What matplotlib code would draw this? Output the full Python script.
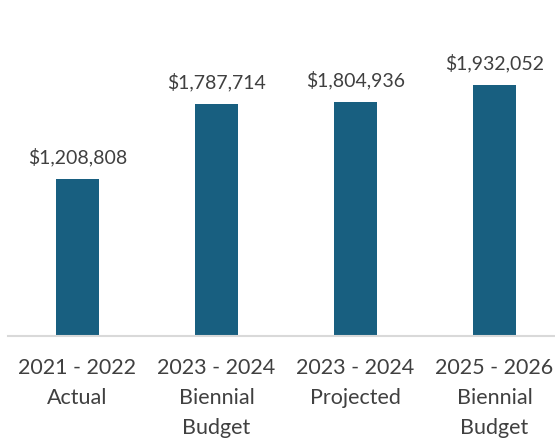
import matplotlib.pyplot as plt

categories = [
    "2021 - 2022\nActual",
    "2023 - 2024\nBiennial\nBudget",
    "2023 - 2024\nProjected",
    "2025 - 2026\nBiennial\nBudget",
]
values = [1208808, 1787714, 1804936, 1932052]

bar_color = "#185f80"
text_color = "#404040"

plt.rcParams["font.family"] = ["Lato", "DejaVu Sans"]

fig = plt.figure(figsize=(5.55, 4.38), dpi=100)
# plot area runs a little past the right edge of the figure
ax = fig.add_axes([8 / 555, 102 / 438, 556 / 555, 336 / 438])

x = range(len(values))
ax.bar(x, values, width=0.31, color=bar_color, zorder=2)

for xi, v in zip(x, values):
    ax.annotate(f"${v:,}", (xi, v), xytext=(0, 9), textcoords="offset points",
                ha="center", va="bottom", fontsize=14, color=text_color)

ax.set_xlim(-0.5, 3.5)
ax.set_ylim(0, 2587000)
ax.set_xticks(list(x))
ax.set_xticklabels(categories, fontsize=15.5, color=text_color, linespacing=1.62)
ax.tick_params(axis="x", length=0, pad=16)
ax.set_yticks([])

for side in ["top", "right", "left"]:
    ax.spines[side].set_visible(False)
ax.spines["bottom"].set_color("#d9d9d9")
ax.spines["bottom"].set_linewidth(1.5)

fig.savefig("out.png", dpi=100)
